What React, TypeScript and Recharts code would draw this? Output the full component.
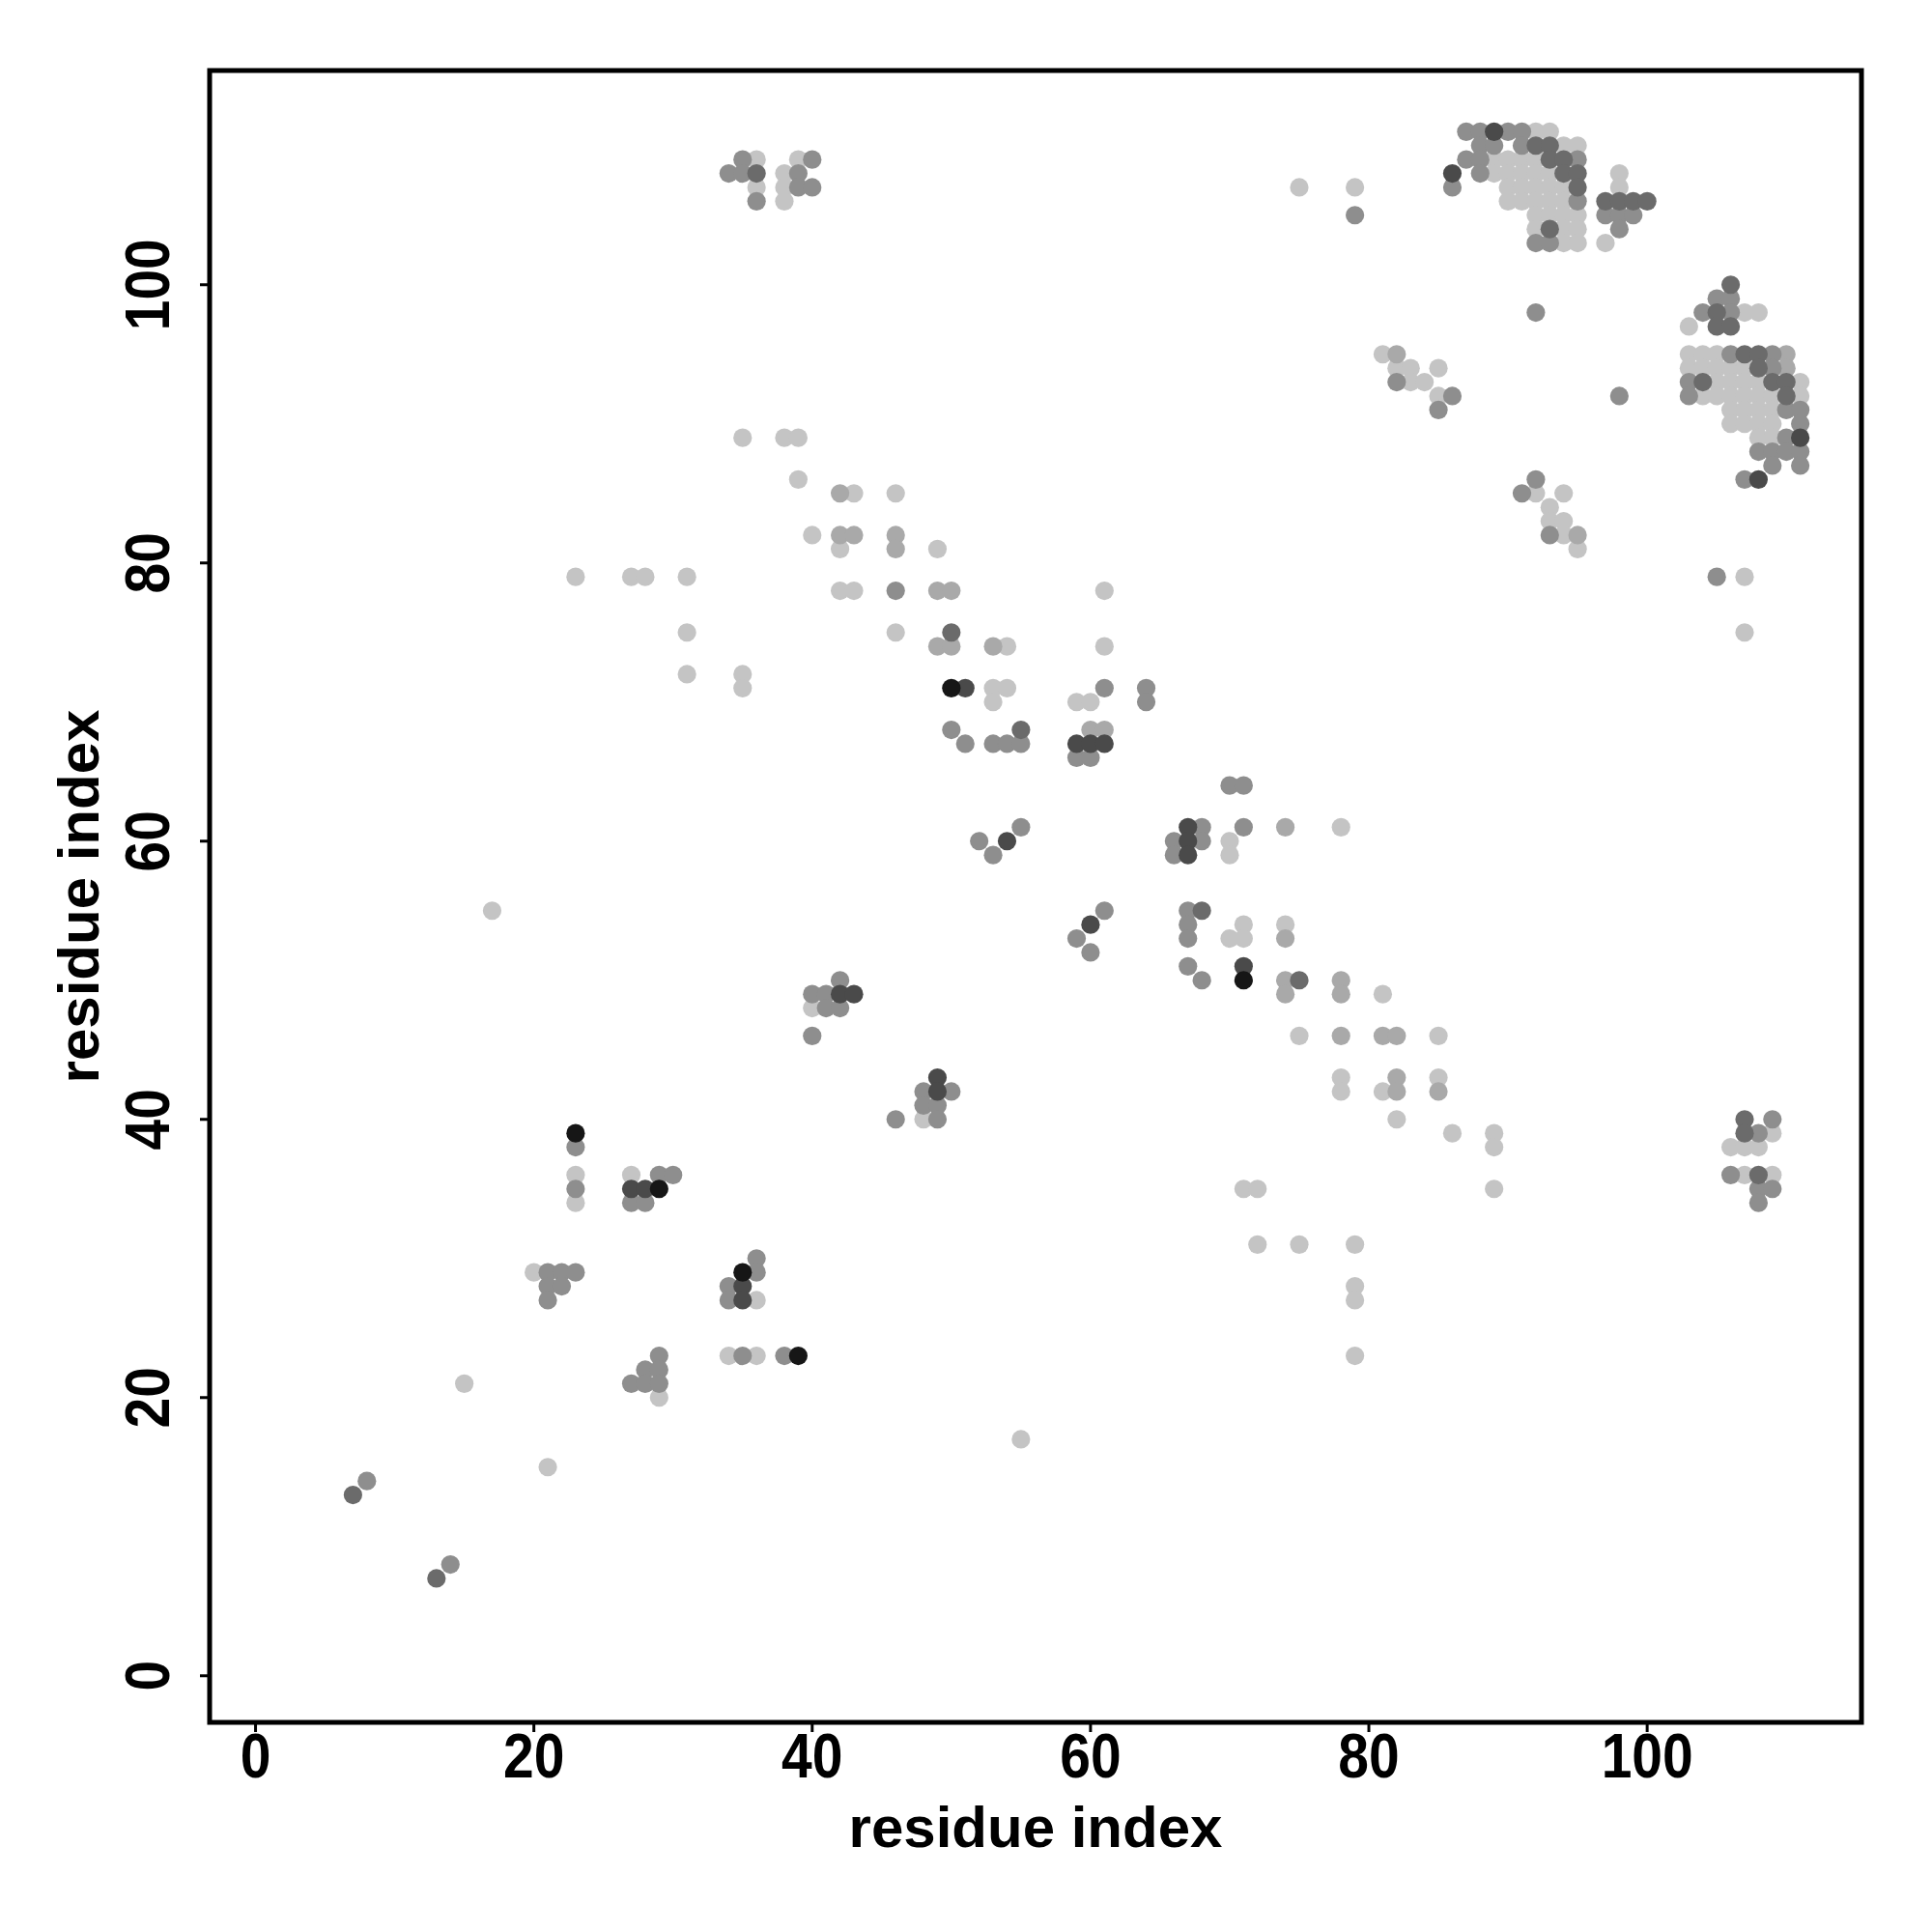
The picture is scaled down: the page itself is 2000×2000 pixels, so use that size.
import { ScatterChart, Scatter, XAxis, YAxis, ReferenceArea } from "recharts";

// contact points, grouped by grey level (light -> black)
const lightPts: [number, number][] = [
  [15, 21], [21, 15], [17, 55],
  [23, 36], [23, 34], [27, 36], [36, 27], [34, 23], [36, 23], [20, 29], [29, 20],
  [35, 89], [38, 89], [39, 89], [39, 86], [40, 82], [23, 79], [27, 79], [28, 79], [31, 79], [31, 75], [31, 72], [35, 72], [35, 71],
  [36, 109], [36, 107], [38, 108], [38, 107], [38, 106], [39, 109],
  [43, 85], [46, 85], [42, 81], [49, 81], [42, 78], [43, 78], [61, 78], [46, 75], [54, 74], [61, 74], [53, 71], [54, 71], [53, 70], [59, 70], [60, 70], [40, 48], [48, 40],
  [70, 60], [70, 59], [78, 61], [71, 54], [70, 53], [71, 53], [74, 54], [81, 49], [75, 46], [78, 43], [78, 42], [81, 42], [82, 40],
  [71, 35], [72, 35], [72, 31], [75, 31], [79, 31], [79, 28], [79, 27], [79, 23], [55, 17], [85, 46], [85, 43], [86, 39], [89, 39], [89, 38], [89, 35],
  [81, 95], [82, 94], [83, 94], [85, 94], [83, 93], [84, 93], [85, 92], [92, 85], [94, 85], [93, 84], [93, 83], [94, 83], [94, 82], [95, 81],
  [75, 107], [79, 107],
  [92, 111], [93, 111], [94, 110], [95, 110], [89, 109], [90, 109], [91, 109], [92, 109], [89, 108], [90, 108], [91, 108], [92, 108], [93, 108], [98, 108],
  [90, 107], [91, 107], [92, 107], [93, 107], [94, 107], [98, 107], [90, 106], [91, 106], [92, 106], [93, 106], [94, 106],
  [92, 105], [93, 105], [94, 105], [95, 105], [92, 104], [94, 104], [95, 104], [94, 103], [95, 103], [97, 103],
  [107, 98], [108, 98], [103, 97], [103, 95], [104, 95], [105, 95], [103, 94], [104, 94], [105, 94], [106, 94], [107, 94],
  [105, 93], [106, 93], [107, 93], [108, 93], [111, 93], [104, 92], [105, 92], [106, 92], [107, 92], [108, 92], [109, 92], [111, 92],
  [106, 91], [107, 91], [108, 91], [109, 91], [106, 90], [107, 90], [108, 90], [109, 90], [108, 89], [109, 89],
  [107, 79], [107, 75],
  [109, 39], [106, 38], [107, 38], [108, 38], [107, 36], [109, 36],
];

const paleGreyPts: [number, number][] = [
  [42, 85], [42, 82], [43, 82], [46, 82], [46, 81], [49, 78], [50, 78], [49, 74], [50, 74], [53, 74], [60, 68], [61, 68],
  [74, 61], [74, 53], [74, 50], [74, 49], [78, 50], [78, 49], [78, 46], [81, 46], [82, 46], [82, 43], [82, 42], [85, 42],
  [82, 95], [95, 82], [110, 95], [110, 94],
];

const greyPts: [number, number][] = [
  [8, 14], [14, 8],
  [23, 38], [23, 35], [29, 36], [30, 36], [27, 34], [28, 34], [36, 30], [36, 29], [34, 28], [34, 27], [35, 23], [38, 23],
  [21, 29], [22, 29], [23, 29], [21, 28], [22, 28], [21, 27], [29, 23], [28, 22], [29, 22], [27, 21], [28, 21], [29, 21],
  [34, 108], [35, 109], [35, 108], [36, 106], [39, 108], [39, 107], [40, 109], [40, 107],
  [46, 78], [61, 71], [64, 71], [64, 70], [50, 68], [51, 67], [53, 67], [54, 67], [55, 67], [59, 66], [60, 66],
  [52, 60], [53, 59], [55, 61], [66, 60], [66, 59], [61, 55], [59, 53], [60, 52], [67, 55], [67, 54], [67, 53], [67, 51],
  [42, 50], [40, 49], [41, 49], [41, 48], [42, 48], [40, 46], [48, 42], [50, 42], [48, 41], [49, 41], [49, 40], [46, 40],
  [70, 64], [71, 64], [68, 61], [68, 60], [71, 61], [68, 50],
  [82, 93], [86, 92], [85, 91], [98, 92], [92, 98], [92, 86], [91, 85], [93, 82],
  [79, 105],
  [87, 111], [88, 111], [90, 111], [91, 111], [88, 110], [89, 110], [91, 110], [87, 109], [88, 109], [95, 109], [88, 108], [86, 107],
  [95, 106], [97, 105], [98, 105], [99, 105], [98, 104], [92, 103], [93, 103],
  [105, 99], [106, 99], [104, 98], [106, 98], [106, 95], [109, 95], [109, 94], [103, 93], [103, 92], [110, 91], [111, 91], [111, 90],
  [110, 89], [108, 88], [109, 88], [110, 88], [111, 88], [109, 87], [111, 87], [107, 86],
  [105, 79],
  [109, 40], [108, 39], [106, 36], [108, 35], [109, 35], [108, 34],
];

const darkGreyPts: [number, number][] = [
  [7, 13], [13, 7],
  [36, 108], [50, 75], [55, 68], [68, 55], [75, 50],
  [92, 110], [93, 110], [93, 109], [94, 109], [94, 108], [95, 108], [95, 107], [97, 106], [98, 106], [99, 106], [100, 106], [93, 104],
  [106, 100], [105, 98], [105, 97], [106, 97], [107, 95], [108, 95], [108, 94], [104, 93], [109, 93], [110, 93], [110, 92],
  [107, 40], [107, 39], [108, 36],
];

const darkPts: [number, number][] = [
  [27, 35], [28, 35], [35, 28], [35, 27], [51, 71], [59, 67], [60, 67], [61, 67], [54, 60], [67, 61], [67, 60], [67, 59],
  [60, 54], [49, 43], [49, 42], [42, 49], [43, 49], [71, 51], [89, 111], [86, 108], [111, 89], [108, 86],
];

const blackPts: [number, number][] = [
  [23, 39], [39, 23], [29, 35], [35, 29], [50, 71], [71, 50],
];

const ticks = [0, 20, 40, 60, 80, 100];

const SERIES = [
  { name: "light", pts: lightPts, color: "#c4c4c4" },
  { name: "pale", pts: paleGreyPts, color: "#a9a9a9" },
  { name: "grey", pts: greyPts, color: "#8e8e8e" },
  { name: "darkgrey", pts: darkGreyPts, color: "#6b6b6b" },
  { name: "dark", pts: darkPts, color: "#4a4a4a" },
  { name: "black", pts: blackPts, color: "#161616" },
];

const X_DOMAIN: [number, number] = [-3.3, 115.4];
const Y_DOMAIN: [number, number] = [-3.35, 115.4];
const FONT = "'Liberation Sans', Arial, sans-serif";
// R's bold tick font is a bit taller and narrower than Liberation Sans
const TICK_SIZE = 64;
const TICK_SQUEEZE = 0.89;

function Dot(props: any) {
  const { cx, cy, fill } = props;
  if (cx == null || cy == null) return <g />;
  return <circle cx={cx} cy={cy} r={9.6} fill={fill} />;
}

function XTick(props: any) {
  const { x, y, payload } = props;
  return (
    <g transform={`translate(${x} ${y}) scale(${TICK_SQUEEZE} 1)`}>
      <text
        x={0}
        y={0}
        dy="0.71em"
        textAnchor="middle"
        fontSize={TICK_SIZE}
        fontWeight={700}
        fontFamily={FONT}
        fill="#000"
      >
        {payload.value}
      </text>
    </g>
  );
}

function YTick(props: any) {
  const { x, y, payload } = props;
  return (
    <g transform={`translate(${x} ${y}) rotate(-90) scale(${TICK_SQUEEZE} 1)`}>
      <text
        x={0}
        y={-32}
        textAnchor="middle"
        fontSize={TICK_SIZE}
        fontWeight={700}
        fontFamily={FONT}
        fill="#000"
      >
        {payload.value}
      </text>
    </g>
  );
}

function YTitle(props: any) {
  const vb = props.viewBox ?? { x: 117, y: 73, width: 100, height: 1710 };
  const x = vb.x + vb.width - 115;
  const y = vb.y + vb.height / 2;
  return (
    <text
      x={x}
      y={y}
      transform={`rotate(-90 ${x} ${y})`}
      textAnchor="middle"
      fontSize={60}
      fontWeight={700}
      fontFamily={FONT}
      fill="#000"
    >
      residue index
    </text>
  );
}

export default function App() {
  return (
    <div style={{ position: "absolute", left: 0, top: 0, width: 2000, height: 2000, background: "#fff", fontFamily: FONT }}>
      <ScatterChart width={2000} height={2000} margin={{ top: 73, right: 73, left: 117, bottom: 131 }}>
        <XAxis
          type="number"
          dataKey="x"
          domain={X_DOMAIN}
          ticks={ticks}
          allowDataOverflow
          axisLine={false}
          tickLine={{ stroke: "#000", strokeWidth: 3 }}
          tickSize={10}
          tickMargin={2}
          height={86}
          tick={<XTick />}
          label={{ value: "residue index", position: "bottom", offset: 0, fontSize: 60, fontWeight: 700, fill: "#000", fontFamily: FONT }}
        />
        <YAxis
          type="number"
          dataKey="y"
          domain={Y_DOMAIN}
          ticks={ticks}
          allowDataOverflow
          axisLine={false}
          tickLine={{ stroke: "#000", strokeWidth: 3 }}
          tickSize={10}
          tickMargin={0}
          width={100}
          tick={<YTick />}
          label={(p: any) => <YTitle {...p} />}
        />
        {SERIES.map((s) => (
          <Scatter
            key={s.name}
            name={s.name}
            data={s.pts.map(([x, y]) => ({ x, y }))}
            fill={s.color}
            shape={<Dot />}
            isAnimationActive={false}
          />
        ))}
        <ReferenceArea
          x1={X_DOMAIN[0]}
          x2={X_DOMAIN[1]}
          y1={Y_DOMAIN[0]}
          y2={Y_DOMAIN[1]}
          fill="none"
          fillOpacity={0}
          stroke="#000"
          strokeWidth={5}
          ifOverflow="visible"
        />
      </ScatterChart>
    </div>
  );
}
